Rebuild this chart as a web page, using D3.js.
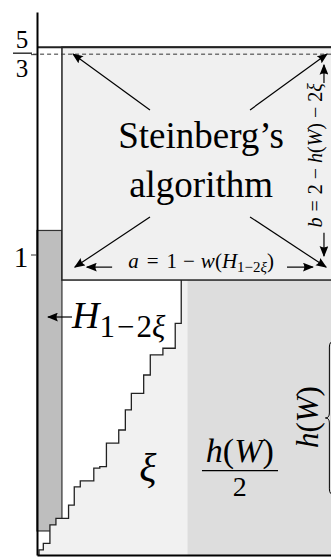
<!DOCTYPE html>
<html>
<head>
<meta charset="utf-8">
<script src="https://cdn.jsdelivr.net/npm/d3@7"></script>
<style>
  body { margin: 0; background: #fff; }
  svg { display: block; }
</style>
</head>
<body>
<div id="chart"></div>
<script>
const w = 331;
const h = 557;
const serif = "Liberation Serif";

// Packing values (strip width 1, heights in the same unit)
const stripWidth = 0.083;      // w(H_{1-2xi})
const stripBottom = 0.08;
const stripTop = 1.08;
const boxBottom = 0.915;       // bottom of Steinberg's box
const boxTop = 1.69;
const halfSplit = 0.5;         // h(W)/2 region starts here
const dashedLevel = 5 / 3;
const axisTop = 1.807;
const yTickValues = [1, 5 / 3];

// Staircase of the xi items: up at stairX[i] to stairY[i], then right
const stairX = [0.0067, 0.021, 0.043, 0.063, 0.105, 0.124, 0.144, 0.189, 0.209,
                0.231, 0.272, 0.294, 0.314, 0.355, 0.377, 0.419, 0.460, 0.480];
const stairY = [0.017, 0.039, 0.100, 0.122, 0.166, 0.227, 0.247, 0.289, 0.294,
                0.372, 0.416, 0.483, 0.538, 0.599, 0.666, 0.688, 0.771, 0.915];

// Arrows [x1, y1, x2, y2]
const cornerArrows = [
  [0.376, 1.481, 0.120, 1.667],
  [0.709, 1.481, 0.965, 1.667],
  [0.376, 1.125, 0.126, 0.958],
  [0.709, 1.125, 0.962, 0.958]
];
const aArrows = [
  [0.250, 0.958, 0.166, 0.958],
  [0.832, 0.958, 0.918, 0.958]
];
const bArrows = [
  [0.955, 1.571, 0.955, 1.631],
  [0.955, 1.072, 0.955, 0.995]
];
const hArrow = [0.1165, 0.792, 0.0366, 0.792];
const braceSpan = [0.2, 0.712];
const braceX = 0.973;

// Scales
const x = d3.scaleLinear().domain([0, 1]).range([37, 337.5]);
const y = d3.scaleLinear().domain([0, 1]).range([555, 254.5]);

const svg = d3.select("#chart")
              .append("svg")
              .attr("width", w)
              .attr("height", h);

const defs = svg.append("defs");
defs.append("marker")
    .attr("id", "arr")
    .attr("viewBox", "0 0 10 8")
    .attr("refX", 9)
    .attr("refY", 4)
    .attr("markerWidth", 11)
    .attr("markerHeight", 9)
    .attr("markerUnits", "userSpaceOnUse")
    .attr("orient", "auto")
    .append("path")
    .attr("d", "M0,0 L10,4 L0,8 Q2.5,4 0,0 Z")
    .attr("fill", "#000");

// h(W)/2 region
svg.append("rect")
   .attr("x", x(halfSplit))
   .attr("y", y(boxBottom))
   .attr("width", x(1) - x(halfSplit))
   .attr("height", y(0) - y(boxBottom))
   .attr("fill", "#dddddd");

// H_{1-2xi} strip
svg.append("rect")
   .attr("x", x(0))
   .attr("y", y(stripTop))
   .attr("width", x(stripWidth) - x(0))
   .attr("height", y(stripBottom) - y(stripTop))
   .attr("fill", "#bebebe")
   .attr("stroke", "#333")
   .attr("stroke-width", 1.2);

// staircase points
const stairPts = [[stairX[0], 0]];
stairX.forEach(function (sx, i) {
  stairPts.push([sx, stairY[i]]);
  if (i + 1 < stairX.length) stairPts.push([stairX[i + 1], stairY[i]]);
});

const line = d3.line().x(d => x(d[0])).y(d => y(d[1]));

// xi region
const xiPts = stairPts.concat([[halfSplit, boxBottom], [halfSplit, 0]]);
svg.append("path")
   .attr("d", line(xiPts) + "Z")
   .attr("fill", "#f1f1f1");

svg.append("path")
   .attr("d", line(stairPts))
   .attr("fill", "none")
   .attr("stroke", "#222")
   .attr("stroke-width", 1.3);

// Steinberg's box
svg.append("rect")
   .attr("x", x(stripWidth))
   .attr("y", y(boxTop))
   .attr("width", x(1) - x(stripWidth))
   .attr("height", y(boxBottom) - y(boxTop))
   .attr("fill", "#f0f0f0")
   .attr("stroke", "#222")
   .attr("stroke-width", 1.5);

// top level line
svg.append("line")
   .attr("x1", x(0)).attr("x2", x(1))
   .attr("y1", y(boxTop)).attr("y2", y(boxTop))
   .attr("stroke", "#222")
   .attr("stroke-width", 2);

// 5/3 dashed line
svg.append("line")
   .attr("x1", x(-0.013)).attr("x2", x(1))
   .attr("y1", y(dashedLevel)).attr("y2", y(dashedLevel))
   .attr("stroke", "#333")
   .attr("stroke-width", 1)
   .attr("stroke-dasharray", "4,3");

// Axes
const yAxisScale = d3.scaleLinear().domain([0, axisTop]).range([y(0), y(axisTop)]);
const yAxis = svg.append("g")
   .attr("transform", "translate(" + x(0) + ",0)")
   .call(d3.axisLeft(yAxisScale).tickValues(yTickValues).tickSize(6).tickSizeOuter(0).tickFormat(""));
yAxis.select(".domain").attr("stroke", "#000").attr("stroke-width", 2);
yAxis.selectAll(".tick line").attr("stroke", "#333").attr("stroke-width", 1);

const xAxis = svg.append("g")
   .attr("transform", "translate(0," + y(0) + ")")
   .call(d3.axisBottom(x).tickValues([]).tickSizeOuter(0));
xAxis.select(".domain").attr("stroke", "#000").attr("stroke-width", 2);

// tick labels
svg.append("text")
   .attr("x", 21).attr("y", y(1) + 12)
   .attr("text-anchor", "middle")
   .attr("font-size", 29)
   .text("1");
svg.append("text")
   .attr("x", 22).attr("y", y(5 / 3) - 6)
   .attr("text-anchor", "middle")
   .attr("font-size", 25)
   .text("5");
svg.append("line")
   .attr("x1", 13).attr("x2", 32)
   .attr("y1", y(5 / 3) - 1).attr("y2", y(5 / 3) - 1)
   .attr("stroke", "#000").attr("stroke-width", 1.2);
svg.append("text")
   .attr("x", 22).attr("y", y(5 / 3) + 23)
   .attr("text-anchor", "middle")
   .attr("font-size", 25)
   .text("3");

// Arrows
const arrowData = cornerArrows.concat(aArrows, bArrows, [hArrow]);
svg.selectAll(".arrow")
   .data(arrowData)
   .enter()
   .append("line")
   .attr("class", "arrow")
   .attr("x1", d => x(d[0]))
   .attr("y1", d => y(d[1]))
   .attr("x2", d => x(d[2]))
   .attr("y2", d => y(d[3]))
   .attr("stroke", "#000")
   .attr("stroke-width", 1.2)
   .attr("marker-end", "url(#arr)");

// rich text helper
function richText(g, parts, size) {
  const t = g.append("text").attr("font-size", size);
  parts.forEach(function (p) {
    const s = t.append("tspan").text(p.t);
    if (p.i) s.attr("font-style", "italic");
    if (p.dx) s.attr("dx", p.dx);
    if (p.dy) s.attr("dy", p.dy);
    if (p.s) s.attr("font-size", p.s);
  });
  return t;
}

// Steinberg's algorithm
svg.append("text")
   .attr("x", x(0.546)).attr("y", y(1.354))
   .attr("text-anchor", "middle")
   .attr("font-size", 37)
   .text("Steinberg\u2019s");
svg.append("text")
   .attr("x", x(0.546)).attr("y", y(1.191))
   .attr("text-anchor", "middle")
   .attr("font-size", 37)
   .text("algorithm");

// a = 1 - w(H_{1-2xi})
richText(svg, [
  {t: "a", i: true},
  {t: "=", dx: 8},
  {t: "1", dx: 8},
  {t: "\u2212", dx: 6},
  {t: "w", dx: 6, i: true},
  {t: "("},
  {t: "H", i: true},
  {t: "1\u22122", s: 15, dy: 4},
  {t: "\u03BE", s: 15, i: true},
  {t: ")", dy: -4}
], 21)
  .attr("x", x(0.546)).attr("y", y(0.955))
  .attr("text-anchor", "middle");

// b = 2 - h(W) - 2xi (rotated)
richText(svg, [
  {t: "b", i: true},
  {t: "=", dx: 6},
  {t: "2", dx: 6},
  {t: "\u2212", dx: 5},
  {t: "h", dx: 5, i: true},
  {t: "("},
  {t: "W", i: true},
  {t: ")"},
  {t: "\u2212", dx: 5},
  {t: "2", dx: 5},
  {t: "\u03BE", i: true}
], 20)
  .attr("text-anchor", "middle")
  .attr("transform", "translate(" + x(0.948) + "," + y(1.33) + ") rotate(-90)");

// H_{1-2xi} label
richText(svg, [
  {t: "H", i: true},
  {t: "1", s: 31, dy: 9},
  {t: "\u2212", s: 31, dx: 2},
  {t: "2", s: 31, dx: 2},
  {t: "\u03BE", s: 31, i: true}
], 38)
  .attr("x", x(0.1165)).attr("y", y(0.755));

// xi label
svg.append("text")
   .attr("x", x(0.369)).attr("y", y(0.246))
   .attr("text-anchor", "middle")
   .attr("font-size", 40)
   .attr("font-style", "italic")
   .text("\u03BE");

// h(W)/2
richText(svg, [
  {t: "h", i: true},
  {t: "("},
  {t: "W", i: true},
  {t: ")"}
], 34)
  .attr("x", x(0.675)).attr("y", y(0.309))
  .attr("text-anchor", "middle");
svg.append("line")
   .attr("x1", x(0.549)).attr("x2", x(0.802))
   .attr("y1", y(0.2805)).attr("y2", y(0.2805))
   .attr("stroke", "#000").attr("stroke-width", 1.2);
svg.append("text")
   .attr("x", x(0.675)).attr("y", y(0.196))
   .attr("text-anchor", "middle")
   .attr("font-size", 28)
   .text("2");

// rotated h(W) with brace
richText(svg, [
  {t: "h", i: true},
  {t: "("},
  {t: "W", i: true},
  {t: ")"}
], 31)
  .attr("text-anchor", "middle")
  .attr("transform", "translate(" + x(0.935) + "," + y(0.459) + ") rotate(-90)");

const bx = x(braceX);
const by1 = y(braceSpan[1]);
const by2 = y(braceSpan[0]);
const byc = (by1 + by2) / 2;
const bp = d3.path();
bp.moveTo(bx + 5, by1);
bp.quadraticCurveTo(bx, by1, bx, by1 + 6);
bp.lineTo(bx, byc - 5);
bp.quadraticCurveTo(bx, byc, bx - 4, byc);
bp.quadraticCurveTo(bx, byc, bx, byc + 5);
bp.lineTo(bx, by2 - 6);
bp.quadraticCurveTo(bx, by2, bx + 5, by2);
svg.append("path")
   .attr("d", bp.toString())
   .attr("fill", "none")
   .attr("stroke", "#000")
   .attr("stroke-width", 1);

// serif font on every text and tspan
svg.selectAll("text, tspan").attr("font-family", serif);
</script>
</body>
</html>
